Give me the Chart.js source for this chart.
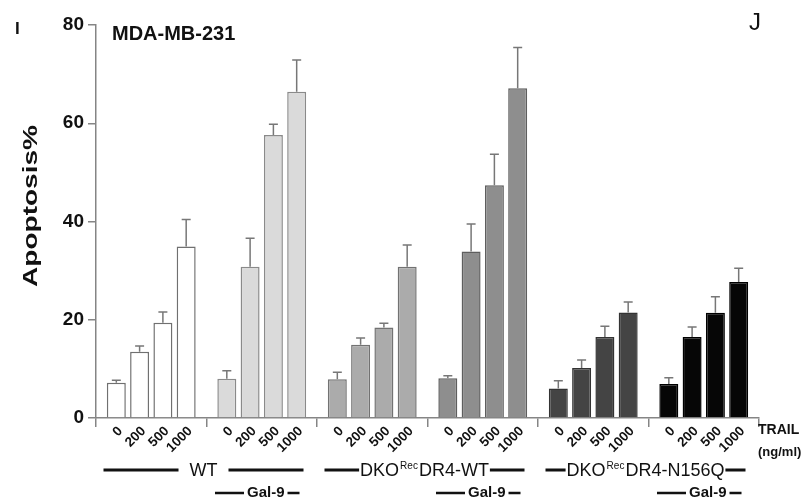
<!DOCTYPE html>
<html>
<head>
<meta charset="utf-8">
<script src="https://cdn.jsdelivr.net/npm/chart.js@4/dist/chart.umd.min.js"></script>
<style>
  html, body { margin: 0; padding: 0; background: #ffffff; }
  #wrap { width: 807px; height: 501px; }
</style>
</head>
<body>
<div id="wrap"><canvas id="c" width="807" height="501"></canvas></div>
<script>
// ---- data ----
const groups = ['WT', 'WT + Gal-9', 'DKO-Rec DR4-WT', 'DKO-Rec DR4-WT + Gal-9', 'DKO-Rec DR4-N156Q', 'DKO-Rec DR4-N156Q + Gal-9'];
const doses = ['0', '200', '500', '1000'];
const dose0 = [7.2, 8.0, 7.9, 8.1, 6.0, 6.9];
const dose200 = [13.5, 30.8, 14.9, 33.9, 10.2, 16.5];
const dose500 = [19.4, 57.6, 18.4, 47.4, 16.5, 21.4];
const dose1000 = [34.9, 66.4, 30.8, 67.1, 21.5, 27.7];
const err0 = [0.5, 1.6, 1.4, 0.5, 1.6, 1.3];
const err200 = [1.15, 5.8, 1.4, 5.6, 1.6, 2.0];
const err500 = [2.2, 2.2, 0.9, 6.3, 2.2, 3.3];
const err1000 = [5.5, 6.5, 4.4, 8.3, 2.1, 2.8];
const yTicks = [0, 20, 40, 60, 80];
const pairLabels = [
  { main1: 'WT', sup: '', main2: '' },
  { main1: 'DKO', sup: 'Rec', main2: 'DR4-WT' },
  { main1: 'DKO', sup: 'Rec', main2: 'DR4-N156Q' }
];
const gal9Label = 'Gal-9';
const cellLine = 'MDA-MB-231';
const yTitle = 'Apoptosis%';
const unitLabel1 = 'TRAIL';
const unitLabel2 = '(ng/ml)';

// ---- styles ----
const FONT = "'Liberation Sans', Arial, Helvetica, sans-serif";
const fills = ['#ffffff', '#dadada', '#ababab', '#8e8e8e', '#444444', '#060606'];
const borders = ['#707070', '#8a8a8a', '#727272', '#5e5e5e', '#333333', '#000000'];
const AXIS = '#858585';

const values = [dose0, dose200, dose500, dose1000];
const errors = [err0, err200, err500, err1000];

const datasets = doses.map((d, i) => ({
  label: d,
  data: values[i],
  backgroundColor: fills,
  borderColor: borders,
  borderWidth: 1.5,
  borderSkipped: 'bottom',
  errs: errors[i]
}));

const annot = {
  id: 'annot',
  afterDatasetsDraw(chart) {
    const ctx = chart.ctx;
    const y = chart.scales.y;
    ctx.save();
    ctx.strokeStyle = '#777777';
    ctx.lineWidth = 1.5;
    chart.data.datasets.forEach((ds, di) => {
      const meta = chart.getDatasetMeta(di);
      meta.data.forEach((bar, gi) => {
        const top = y.getPixelForValue(ds.data[gi]);
        const cap = y.getPixelForValue(ds.data[gi] + ds.errs[gi]);
        ctx.beginPath();
        ctx.moveTo(bar.x, top);
        ctx.lineTo(bar.x, cap);
        ctx.moveTo(bar.x - 4.5, cap);
        ctx.lineTo(bar.x + 4.5, cap);
        ctx.stroke();
      });
    });
    ctx.restore();
  },
  afterDraw(chart) {
    const ctx = chart.ctx;
    const x = chart.scales.x;
    const area = chart.chartArea;
    ctx.save();
    ctx.fillStyle = '#111111';

    // dose labels, rotated
    ctx.font = 'bold 13.5px ' + FONT;
    chart.data.datasets.forEach((ds, di) => {
      const meta = chart.getDatasetMeta(di);
      meta.data.forEach((bar) => {
        ctx.save();
        ctx.translate(bar.x + 4, area.bottom + 11);
        ctx.rotate(-Math.PI / 4);
        ctx.textAlign = 'right';
        ctx.textBaseline = 'middle';
        ctx.fillText(ds.label, 0, 0);
        ctx.restore();
      });
    });

    // pair labels (cell type) with lines
    const gaps = [11, 1, 1];
    ctx.strokeStyle = '#111111';
    ctx.lineWidth = 3;
    pairLabels.forEach((p, k) => {
      const cx = (x.getPixelForValue(2 * k) + x.getPixelForValue(2 * k + 1)) / 2 - 3;
      const ly = 470;
      ctx.font = '18px ' + FONT;
      const w1 = ctx.measureText(p.main1).width;
      const w3 = ctx.measureText(p.main2).width;
      ctx.font = '10px ' + FONT;
      const w2 = p.sup ? ctx.measureText(p.sup).width + 2 : 0;
      const total = w1 + w2 + w3;
      let tx = cx - total / 2;
      ctx.textAlign = 'left';
      ctx.textBaseline = 'middle';
      ctx.font = '18px ' + FONT;
      ctx.fillText(p.main1, tx, ly + 1);
      if (p.sup) {
        ctx.font = '10px ' + FONT;
        ctx.fillText(p.sup, tx + w1 + 1, ly - 4);
        ctx.font = '18px ' + FONT;
        ctx.fillText(p.main2, tx + w1 + w2, ly + 1);
      }
      const left = cx - 100, right = cx + 100;
      ctx.beginPath();
      ctx.moveTo(left, ly);
      ctx.lineTo(tx - gaps[k], ly);
      ctx.moveTo(tx + total + gaps[k], ly);
      ctx.lineTo(right, ly);
      ctx.stroke();
    });

    // Gal-9 labels under groups 2, 4, 6
    ctx.lineWidth = 2.5;
    ctx.font = 'bold 15px ' + FONT;
    ctx.textAlign = 'center';
    ctx.textBaseline = 'middle';
    [1, 3, 5].forEach((gi) => {
      const cx = x.getPixelForValue(gi) + 4;
      const gy = 493;
      const w = ctx.measureText(gal9Label).width;
      ctx.fillText(gal9Label, cx, gy);
      ctx.beginPath();
      ctx.moveTo(cx - w / 2 - 32, gy);
      ctx.lineTo(cx - w / 2 - 3, gy);
      ctx.moveTo(cx + w / 2 + 3, gy);
      ctx.lineTo(cx + w / 2 + 15, gy);
      ctx.stroke();
    });

    // TRAIL (ng/ml)
    ctx.textAlign = 'left';
    ctx.font = 'bold 14px ' + FONT;
    ctx.fillText(unitLabel1, area.right - 1, 430);
    ctx.font = 'bold 13px ' + FONT;
    ctx.fillText(unitLabel2, area.right - 1, 452);

    // cell line title
    ctx.font = 'bold 20px ' + FONT;
    ctx.fillText(cellLine, 112, 34);

    // panel letters
    ctx.font = 'bold 17px ' + FONT;
    ctx.fillText('I', 15, 29);
    ctx.font = '24px ' + FONT;
    ctx.fillText('J', 749, 23);

    // y title (condensed, tall)
    ctx.save();
    ctx.translate(31, 206);
    ctx.rotate(-Math.PI / 2);
    ctx.scale(1.4, 1);
    ctx.font = 'bold 20px ' + FONT;
    ctx.textAlign = 'center';
    ctx.textBaseline = 'middle';
    ctx.fillText(yTitle, 0, 0);
    ctx.restore();

    ctx.restore();
  }
};

new Chart(document.getElementById('c'), {
  type: 'bar',
  data: { labels: groups, datasets },
  options: {
    responsive: false,
    animation: false,
    devicePixelRatio: 1,
    layout: { padding: { left: 0, right: 48, top: 25, bottom: 0 } },
    plugins: { legend: { display: false }, tooltip: { enabled: false } },
    datasets: { bar: { categoryPercentage: 0.843, barPercentage: 0.815 } },
    scales: {
      x: {
        type: 'category',
        offset: true,
        grid: { display: true, drawOnChartArea: false, drawTicks: true, tickLength: 9, color: AXIS, lineWidth: 1.5, offset: true },
        border: { display: true, color: AXIS, width: 1.5 },
        ticks: { display: false },
        afterFit(scale) { scale.height = 83; }
      },
      y: {
        min: 0,
        max: 80,
        afterBuildTicks(scale) { scale.ticks = yTicks.map(v => ({ value: v })); },
        grid: { display: true, drawOnChartArea: false, drawTicks: true, tickLength: 8, color: AXIS, lineWidth: 1.5 },
        border: { display: true, color: AXIS, width: 1.5 },
        ticks: { font: { family: FONT, size: 19, weight: 'bold' }, color: '#111111', padding: 4 },
        afterFit(scale) { scale.width = 96; }
      }
    }
  },
  plugins: [annot]
});
</script>
</body>
</html>
